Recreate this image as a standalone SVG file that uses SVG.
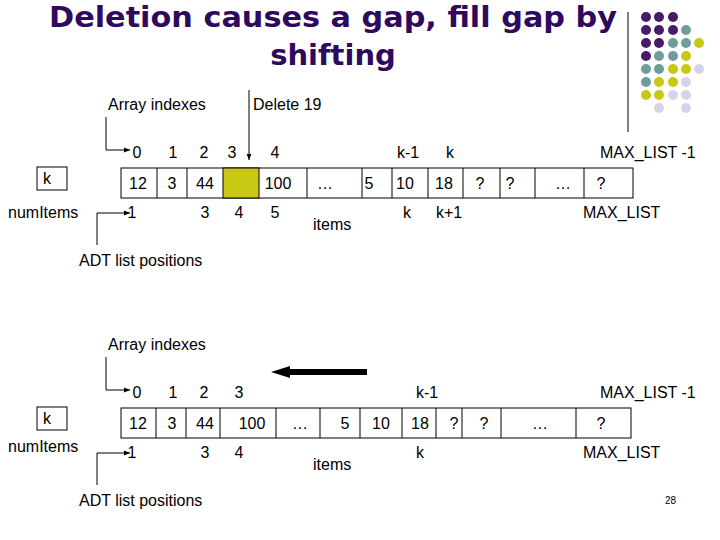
<svg xmlns="http://www.w3.org/2000/svg" width="720" height="540" viewBox="0 0 720 540">
<style>
text{font-family:"Liberation Sans",Arial,sans-serif;font-size:16px;fill:#000}
.t{font-family:"Comic Sans MS","DejaVu Sans",sans-serif;font-weight:bold;font-size:29px;fill:#2e0a5e}
.c{fill:#fff;stroke:#000;stroke-width:1}
.l{stroke:#000;stroke-width:1;fill:none}
.m{text-anchor:middle}
</style>
<defs>
<marker id="a" viewBox="0 0 10 10" refX="10" refY="5" markerWidth="6" markerHeight="6" orient="auto"><path d="M0,1L10,5L0,9z" fill="#000"/></marker>
</defs>
<rect width="720" height="540" fill="#fff"/>
<text class="t m" x="333" y="27" textLength="568" lengthAdjust="spacingAndGlyphs">Deletion causes a gap, fill gap by</text>
<text class="t m" x="333" y="65">shifting</text>
<g id="dots">
<g fill="#4a1a6a"><circle cx="646" cy="17" r="5"/><circle cx="659" cy="17" r="5"/><circle cx="673" cy="17" r="5"/><circle cx="646" cy="30" r="5"/><circle cx="659" cy="30" r="5"/><circle cx="673" cy="30" r="5"/><circle cx="646" cy="43" r="5"/><circle cx="659" cy="43" r="5"/><circle cx="646" cy="56" r="5"/></g>
<g fill="#6f9d9d"><circle cx="686" cy="30" r="5"/><circle cx="673" cy="43" r="5"/><circle cx="686" cy="43" r="5"/><circle cx="659" cy="56" r="5"/><circle cx="673" cy="56" r="5"/><circle cx="646" cy="69" r="5"/><circle cx="659" cy="69" r="5"/><circle cx="646" cy="82" r="5"/></g>
<g fill="#c8c814"><circle cx="699" cy="43" r="5"/><circle cx="686" cy="56" r="5"/><circle cx="673" cy="69" r="5"/><circle cx="686" cy="69" r="5"/><circle cx="659" cy="82" r="5"/><circle cx="673" cy="82" r="5"/><circle cx="646" cy="95" r="5"/><circle cx="659" cy="95" r="5"/></g>
<g fill="#d4d4e8"><circle cx="699" cy="69" r="5"/><circle cx="686" cy="82" r="5"/><circle cx="673" cy="95" r="5"/><circle cx="686" cy="95" r="5"/><circle cx="659" cy="108" r="5"/><circle cx="686" cy="108" r="5"/></g>
</g>
<line class="l" x1="628" y1="12" x2="628" y2="132"/>

<g id="top">
<g id="k1"><rect class="c" x="37" y="167" width="30" height="23"/><text class="m" x="47" y="184">k</text></g>
<g id="arr1">
<rect class="c" x="121" y="168" width="512" height="30"/>
<rect x="223" y="168" width="36" height="30" fill="#c8c814" stroke="#000"/>
<path class="l" d="M157,168V198M187,168V198M307,168V198M362,168V198M392,168V198M428,168V198M463,168V198M500,168V198M535,168V198M584,168V198"/>
<g class="m"><text x="138" y="189">12</text><text x="172" y="189">3</text><text x="205" y="189">44</text><text x="278" y="189">100</text><text x="325" y="189">…</text><text x="369" y="189">5</text><text x="405" y="189">10</text><text x="444" y="189">18</text><text x="480" y="189">?</text><text x="510" y="189">?</text><text x="563" y="189">…</text><text x="601" y="189">?</text></g>
</g>
<text x="108" y="110">Array indexes</text>
<text x="253" y="110">Delete 19</text>
<g class="m"><text x="137" y="158">0</text><text x="173" y="158">1</text><text x="204" y="158">2</text><text x="232" y="158">3</text><text x="275" y="158">4</text><text x="408" y="158">k-1</text><text x="450" y="158">k</text></g>
<text x="600" y="158">MAX_LIST -1</text>
<text x="8" y="218">numItems</text>
<g class="m"><text x="132" y="218">1</text><text x="205" y="218">3</text><text x="239" y="218">4</text><text x="275" y="218">5</text><text x="407" y="218">k</text><text x="449" y="218">k+1</text></g>
<text x="313" y="230">items</text>
<text x="583" y="218">MAX_LIST</text>
<text x="79" y="266">ADT list positions</text>
</g>

<g id="bottom">
<g id="k2"><rect class="c" x="37" y="407" width="30" height="23"/><text class="m" x="47" y="424">k</text></g>
<g id="arr2">
<rect class="c" x="121" y="408" width="510" height="30"/>
<path class="l" d="M156,408V438M186,408V438M220,408V438M276,408V438M320,408V438M360,408V438M402,408V438M436,408V438M462,408V438M501,408V438M576,408V438"/>
<g class="m"><text x="138" y="429">12</text><text x="172" y="429">3</text><text x="205" y="429">44</text><text x="252" y="429">100</text><text x="300" y="429">…</text><text x="345" y="429">5</text><text x="381" y="429">10</text><text x="420" y="429">18</text><text x="454" y="429">?</text><text x="484" y="429">?</text><text x="540" y="429">…</text><text x="601" y="429">?</text></g>
</g>
<text x="108" y="350">Array indexes</text>
<g class="m"><text x="137" y="398">0</text><text x="173" y="398">1</text><text x="204" y="398">2</text><text x="239" y="398">3</text><text x="427" y="398">k-1</text></g>
<text x="600" y="398">MAX_LIST -1</text>
<text x="8" y="452">numItems</text>
<g class="m"><text x="132" y="458">1</text><text x="205" y="458">3</text><text x="239" y="458">4</text><text x="420" y="458">k</text></g>
<text x="313" y="470">items</text>
<text x="583" y="458">MAX_LIST</text>
<text x="79" y="506">ADT list positions</text>
<text x="665" y="504" style="font-size:10px">28</text>
</g>

<g id="connectors">
<path class="l" d="M106,117V150H130" marker-end="url(#a)"/>
<path class="l" d="M249,90V160" marker-end="url(#a)"/>
<path class="l" d="M97,245V213H130" marker-end="url(#a)"/>
<path class="l" d="M106,357V390H130" marker-end="url(#a)"/>
<path class="l" d="M97,485V453H130" marker-end="url(#a)"/>
<path d="M367,369H290V366L271,372L290,378V375H367Z" fill="#000"/>
</g>
</svg>
